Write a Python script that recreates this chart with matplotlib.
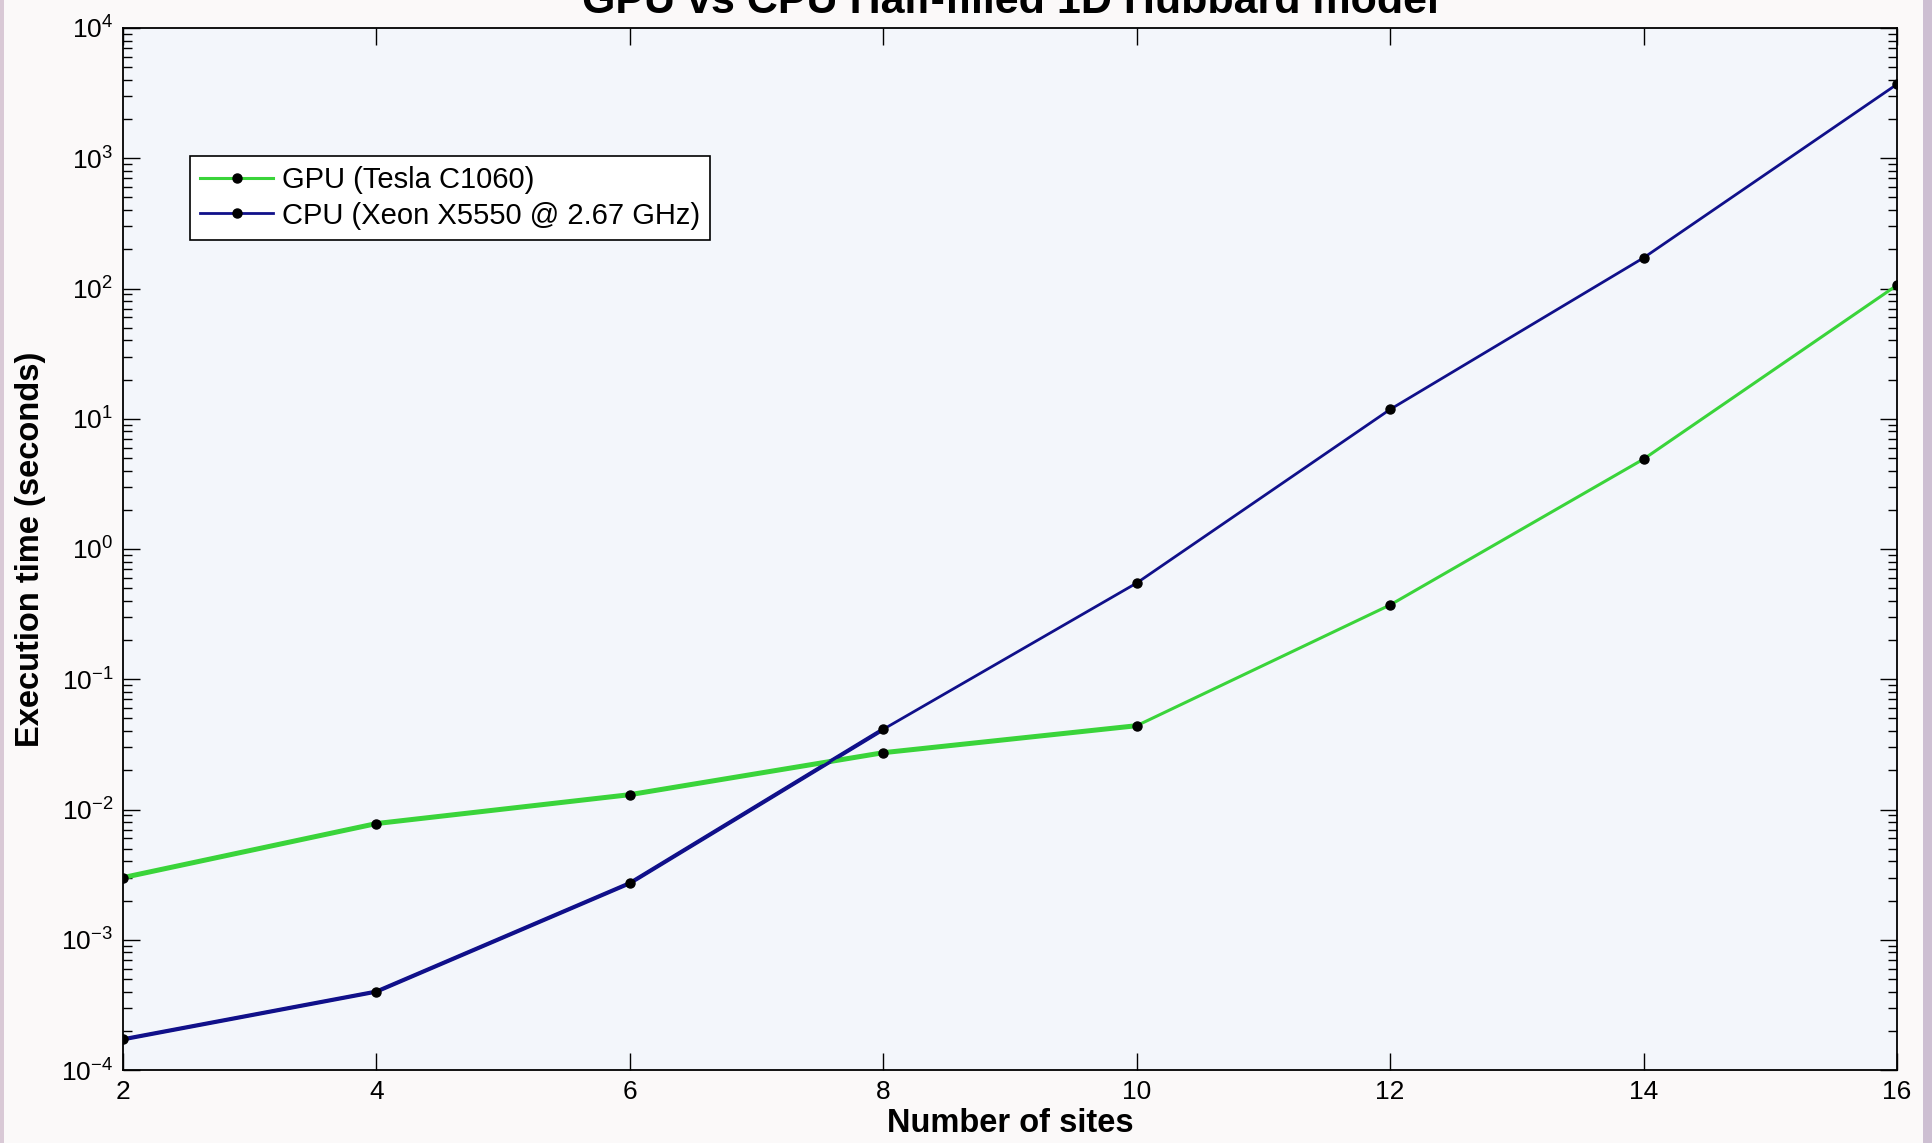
import matplotlib
matplotlib.use("Agg")
import matplotlib.pyplot as plt
from matplotlib.ticker import LogLocator, NullFormatter, FixedLocator
from matplotlib.patches import Rectangle

plt.rcParams['font.family'] = ['Liberation Sans', 'DejaVu Sans']
plt.rcParams['mathtext.fontset'] = 'custom'
plt.rcParams['mathtext.rm'] = 'Liberation Sans'
plt.rcParams['mathtext.it'] = 'Liberation Sans:italic'
plt.rcParams['mathtext.bf'] = 'Liberation Sans:bold'

# ---- data ----
sites = [2, 4, 6, 8, 10, 12, 14, 16]
gpu_time = [3.0e-3, 7.8e-3, 1.3e-2, 2.73e-2, 4.4e-2, 0.372, 4.9, 106]
cpu_time = [1.72e-4, 4.0e-4, 2.72e-3, 4.13e-2, 0.548, 11.8, 172, 3700]
gpu_label = "GPU (Tesla C1060)"
cpu_label = "CPU (Xeon X5550 @ 2.67 GHz)"
title = "GPU vs CPU Half-filled 1D Hubbard model"
xlabel = "Number of sites"
ylabel = "Execution time (seconds)"
xticks = [2, 4, 6, 8, 10, 12, 14, 16]

W, H = 1933, 1143
fig = plt.figure(figsize=(W / 100, H / 100), dpi=100, facecolor='#fbf9f9')

# slide edge strips
fig.patches.append(Rectangle((0, 0), 4 / W, 1, transform=fig.transFigure,
                             facecolor='#d9c9d6', edgecolor='none', zorder=0))
fig.patches.append(Rectangle((1923 / W, 0), 10 / W, 1, transform=fig.transFigure,
                             facecolor='#cdbfd2', edgecolor='none', zorder=0))

left, right, top, bottom = 123, 1897, 28, 1070
ax = fig.add_axes([left / W, 1 - bottom / H, (right - left) / W, (bottom - top) / H])
ax.set_facecolor('#f3f6fb')

green = '#3ad43a'
navy = '#10108a'

# thicker early segments (as in the original rendering)
ax.plot(sites[:5], gpu_time[:5], color=green, lw=3.6, solid_capstyle='round', zorder=2)
ax.plot(sites[:4], cpu_time[:4], color=navy, lw=3.0, solid_capstyle='round', zorder=2)
ax.plot(sites, gpu_time, color=green, lw=2.2, marker='o', ms=6.5,
        mfc='black', mec='black', label=gpu_label, zorder=3)
ax.plot(sites, cpu_time, color=navy, lw=2.0, marker='o', ms=6.5,
        mfc='black', mec='black', label=cpu_label, zorder=3)

ax.set_yscale('log')
ax.set_xlim(2, 16)
ax.set_ylim(1e-4, 1e4)
ax.xaxis.set_major_locator(FixedLocator(xticks))
ax.yaxis.set_major_locator(LogLocator(base=10, numticks=20))
ax.yaxis.set_minor_locator(LogLocator(base=10, subs=range(2, 10), numticks=100))
ax.yaxis.set_minor_formatter(NullFormatter())

ax.tick_params(which='both', direction='in', top=True, right=True, width=1.0,
               colors='black', labelsize=19)
ax.tick_params(which='major', length=12.5, pad=7)
ax.tick_params(which='minor', length=6.5)
for s in ax.spines.values():
    s.set_linewidth(1.3)
    s.set_color('black')

ax.set_xlabel(xlabel, fontsize=23.5, fontweight='bold')
ax.xaxis.set_label_coords(0.5, -0.036)
ax.set_ylabel(ylabel, fontsize=23.5, fontweight='bold')
ax.yaxis.set_label_coords(-0.0434, 0.5)

leg = ax.legend(loc='upper left', bbox_to_anchor=(0.0378, 0.877), borderaxespad=0,
                fontsize=21, handlelength=2.5, handletextpad=0.3, borderpad=0.35,
                labelspacing=0.25, fancybox=False, framealpha=1, edgecolor='black')
leg.get_frame().set_linewidth(1.2)

fig.text(1010 / W, 1 - 13 / H, title, ha='center', va='baseline',
         fontsize=31, fontweight='bold')

fig.savefig('out.png', dpi=100, facecolor=fig.get_facecolor())
